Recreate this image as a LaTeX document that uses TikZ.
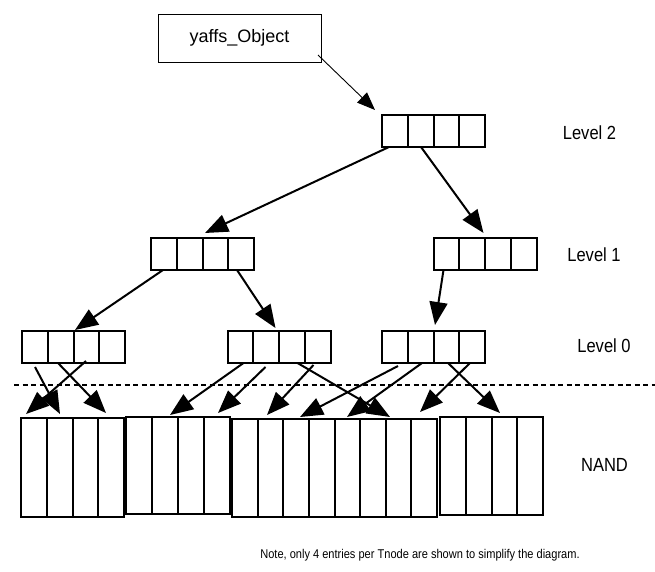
\documentclass[tikz,border=0pt]{standalone}
\usepackage{fontspec}
\setmainfont{Liberation Sans}
\newfontfamily\lblfont[FakeStretch=0.87]{Liberation Sans}
\usetikzlibrary{calc,arrows.meta}
\tikzset{
  cells/.style={path picture={
    \pgfmathtruncatemacro\ncm{#1-1}
    \foreach \i in {1,...,\ncm}{
      \draw[line width=2pt]
        ($(path picture bounding box.south west)!{\i/#1}!(path picture bounding box.south east)$) --
        ($(path picture bounding box.north west)!{\i/#1}!(path picture bounding box.north east)$);
    }}},
  tnode/.style={draw, line width=2pt, inner sep=0pt, outer sep=0pt,
    minimum width=103pt, minimum height=32pt, cells=4},
  nandblk/.style={draw, line width=2pt, inner sep=0pt, outer sep=0pt, cells=#1},
  objbox/.style={draw, line width=0.9pt, inner sep=0pt, outer sep=0pt,
    minimum width=163pt, minimum height=48pt, font=\fontsize{18}{20}\selectfont},
  lbl/.style={inner sep=0pt, font=\lblfont\fontsize{19}{21}\selectfont},
  notetxt/.style={inner sep=0pt, font=\lblfont\fontsize{12.7}{14}\selectfont},
  ptr/.style={line width=2pt, -{Triangle[length=23pt,width=18pt]}},
  thinptr/.style={line width=0.9pt, -{Triangle[length=18pt,width=14pt]}},
  sep/.style={line width=2pt, dash pattern=on 5pt off 3.5pt}
}
\begin{document}
\begin{tikzpicture}[x=1pt,y=-1pt]
\useasboundingbox (0,0) rectangle (655,572);
% object
\node[objbox] (obj) at (239.5,38) {yaffs\_Object};
% tnodes
\node[tnode] (t2) at (433.5,131) {};
\node[tnode] (t1a) at (202.5,254) {};
\node[tnode] (t1b) at (485,254) {};
\node[tnode] (t0a) at (73.5,347) {};
\node[tnode] (t0b) at (279,347) {};
\node[tnode] (t0c) at (433.5,347) {};
% NAND blocks
\node[nandblk=4, minimum width=103pt, minimum height=99pt] (n1) at (72.5,467.5) {};
\node[nandblk=4, minimum width=104pt, minimum height=97pt] (n2) at (178,465.5) {};
\node[nandblk=8, minimum width=205pt, minimum height=98pt] (n3) at (334.5,468) {};
\node[nandblk=4, minimum width=103pt, minimum height=98pt] (n4) at (491.5,466) {};
% labels
\node[lbl] (lv2) at (589.5,133) {Level 2};
\node[lbl] (lv1) at (594,255) {Level 1};
\node[lbl] (lv0) at (604,346) {Level 0};
\node[lbl] (lnand) at (604.5,465) {NAND};
\node[notetxt] (note) at (420,555) {Note, only 4 entries per Tnode are shown to simplify the diagram.};
% separator
\coordinate (sepL) at (14,385);
\coordinate (sepR) at (655,385);
\draw[sep] (sepL) -- (sepR);
% arrows
\draw[thinptr] ([xshift=-3pt,yshift=-17pt]obj.east) -- ([xshift=-7pt,yshift=5pt]t2.north west);
\draw[ptr] ([xshift=7pt]t2.south west) -- ([xshift=54pt,yshift=5pt]t1a.north west);
\draw[ptr] ([xshift=39pt]t2.south west) -- ([xshift=50pt,yshift=5pt]t1b.north west);
\draw[ptr] ([xshift=12pt]t1a.south west) -- ([xshift=53pt,yshift=1pt]t0a.north west);
\draw[ptr] ([xshift=86pt]t1a.south west) -- ([xshift=48pt,yshift=3pt]t0b.north west);
\draw[ptr] ([xshift=10pt]t1b.south west) -- ([xshift=53pt,yshift=6pt]t0c.north west);
% level 0 -> NAND
\draw[ptr] ([xshift=13pt,yshift=-4pt]t0a.south west) -- ([xshift=39pt,yshift=4pt]n1.north west);
\draw[ptr] ([xshift=36pt]t0a.south west) -- ([xshift=85pt,yshift=5pt]n1.north west);
\draw[ptr] ([xshift=64pt,yshift=2pt]t0a.south west) -- ([xshift=5pt,yshift=4pt]n1.north west);
\draw[ptr] ([xshift=16pt]t0b.south west) -- ([xshift=44pt,yshift=2pt]n2.north west);
\draw[ptr] ([xshift=38pt,yshift=-4pt]t0b.south west) -- ([xshift=92pt,yshift=4pt]n2.north west);
\draw[ptr] ([xshift=86pt,yshift=-2pt]t0b.south west) -- ([xshift=35pt,yshift=4pt]n3.north west);
\draw[ptr] ([xshift=70pt]t0b.south west) -- ([xshift=158pt,yshift=2pt]n3.north west);
\draw[ptr] ([xshift=16pt,yshift=-3pt]t0c.south west) -- ([xshift=68pt,yshift=2pt]n3.north west);
\draw[ptr] ([xshift=40pt]t0c.south west) -- ([xshift=115pt,yshift=2pt]n3.north west);
\draw[ptr] ([xshift=88pt]t0c.south west) -- ([xshift=188pt,yshift=7pt]n3.north west);
\draw[ptr] ([xshift=66pt]t0c.south west) -- ([xshift=60pt,yshift=4pt]n4.north west);
\end{tikzpicture}
\end{document}
